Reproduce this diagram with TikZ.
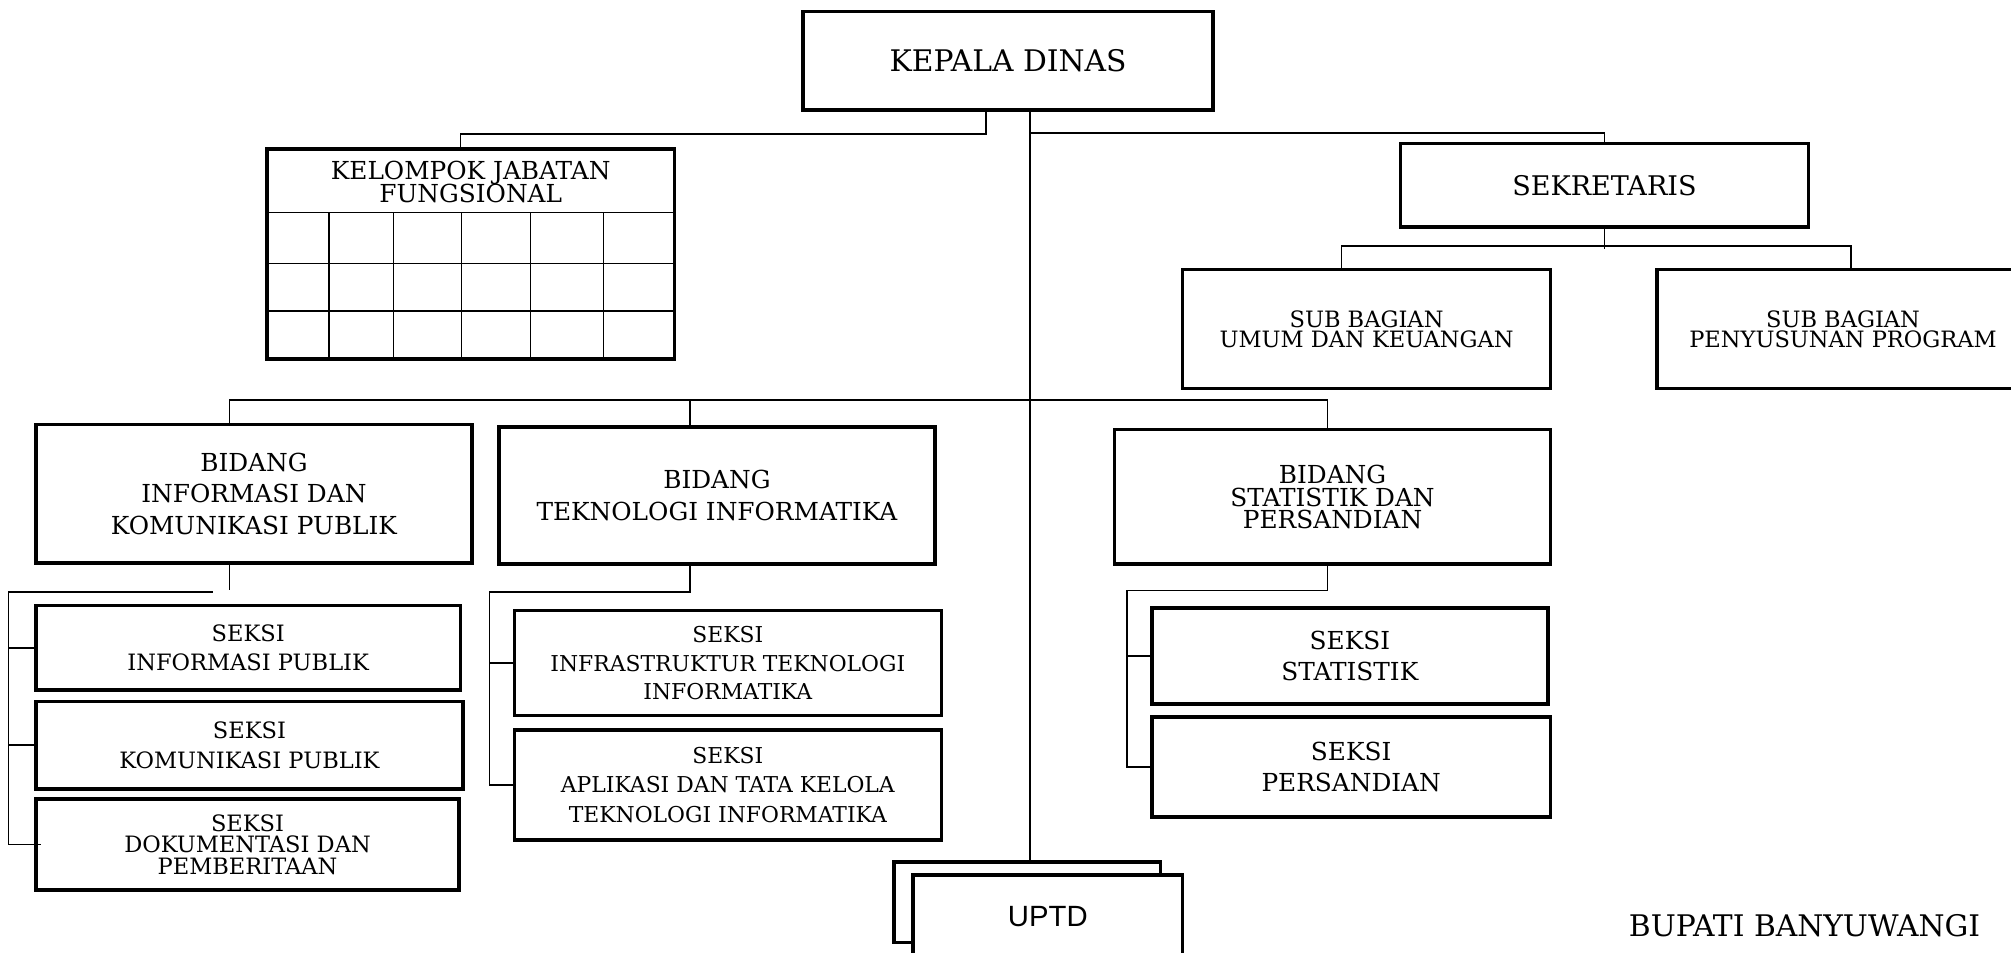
\documentclass[tikz,border=0pt]{standalone}
\usepackage{fontspec}
\setmainfont{DejaVu Serif}
\setsansfont{Liberation Sans}
\usepackage{tikz}
\tikzstyle{unit} = [rectangle, draw=black, line width=1.6pt, align=center, inner sep=0pt, fill=white]
\tikzstyle{link} = [line width=0.8pt]
\tikzstyle{cell} = [line width=0.6pt]

\begin{document}
\begin{tikzpicture}[x=0.02cm, y=-0.02cm]
        \useasboundingbox (0,0) rectangle (1568,743);

        % Nodes
        \node (kadis) [unit, minimum width=6.4cm, minimum height=1.54cm, font=\fontsize{13.2}{15}\selectfont] at (786,47.5) {KEPALA DINAS};
        \node (kjf) [unit, minimum width=6.36cm, minimum height=3.28cm] at (367,198) {};
        \node (kjftext) [align=center, inner sep=0pt, font=\fontsize{11}{10.5}\selectfont] at (367,142) {KELOMPOK JABATAN\\FUNGSIONAL};
        \node (sekre) [unit, minimum width=6.36cm, minimum height=1.3cm, font=\fontsize{12}{14}\selectfont] at (1251,144.5) {SEKRETARIS};
        \node (subum) [unit, minimum width=5.74cm, minimum height=1.86cm, font=\fontsize{10}{9}\selectfont] at (1065.5,256.5) {SUB BAGIAN\\UMUM DAN KEUANGAN};
        \node (subprog) [unit, minimum width=5.8cm, minimum height=1.86cm, font=\fontsize{10}{9}\selectfont] at (1437,256.5) {SUB BAGIAN\\PENYUSUNAN PROGRAM};
        \node (bid1) [unit, minimum width=6.8cm, minimum height=2.16cm, font=\fontsize{11}{14}\selectfont] at (198,385) {BIDANG\\INFORMASI DAN\\KOMUNIKASI PUBLIK};
        \node (bid2) [unit, minimum width=6.8cm, minimum height=2.14cm, font=\fontsize{11}{14}\selectfont] at (559,386.5) {BIDANG\\TEKNOLOGI INFORMATIKA};
        \node (bid3) [unit, minimum width=6.8cm, minimum height=2.1cm, font=\fontsize{11}{10.2}\selectfont] at (1039,387.5) {BIDANG\\STATISTIK DAN\\PERSANDIAN};
        \node (s11) [unit, minimum width=6.62cm, minimum height=1.32cm, font=\fontsize{10}{13}\selectfont] at (193.5,505) {SEKSI\\INFORMASI PUBLIK};
        \node (s12) [unit, minimum width=6.66cm, minimum height=1.36cm, font=\fontsize{10}{13}\selectfont] at (194.5,581) {SEKSI\\KOMUNIKASI PUBLIK};
        \node (s13) [unit, minimum width=6.6cm, minimum height=1.42cm, font=\fontsize{10}{9.6}\selectfont] at (193,658.5) {SEKSI\\DOKUMENTASI DAN\\PEMBERITAAN};
        \node (s21) [unit, minimum width=6.66cm, minimum height=1.64cm, font=\fontsize{9.7}{12.5}\selectfont] at (567.5,517) {SEKSI\\INFRASTRUKTUR TEKNOLOGI\\INFORMATIKA};
        \node (s22) [unit, minimum width=6.66cm, minimum height=1.72cm, font=\fontsize{9.7}{13}\selectfont] at (567.5,612) {SEKSI\\APLIKASI DAN TATA KELOLA\\TEKNOLOGI INFORMATIKA};
        \node (s31) [unit, minimum width=6.18cm, minimum height=1.5cm, font=\fontsize{11}{14}\selectfont] at (1052.5,511.5) {SEKSI\\STATISTIK};
        \node (s32) [unit, minimum width=6.22cm, minimum height=1.56cm, font=\fontsize{11}{14}\selectfont] at (1053.5,598) {SEKSI\\PERSANDIAN};
        \node (uptdb) [unit, minimum width=4.16cm, minimum height=1.26cm] at (801,703.5) {};
        \node (uptd) [unit, minimum width=4.2cm, minimum height=1.32cm, font=\sffamily\fontsize{13}{15}\selectfont] at (817,715) {UPTD};
        \node (bupati) [font=\fontsize{13.2}{15}\selectfont] at (1407,722) {BUPATI BANYUWANGI};

        % Grid of the functional group
        \foreach \dy in {51,91,128}
            \draw [cell] (kjf.north west) ++(0,\dy) -- ++(318,0);
        \foreach \dx in {50,100,153,207,264}
            \draw [cell] (kjf.north west) ++(\dx,51) -- ++(0,113);

        % Lines
        \coordinate (spine) at ([xshift=0.34cm]kadis.south);
        \draw [link] (spine) -- (spine |- uptdb.north);
        \draw [link] (kadis.south) ++(-17,0) -- ++(0,17) -| ([xshift=-0.16cm]kjf.north);
        \draw [link] (spine) ++(0,16) -| (sekre.north);
        \draw [link] (sekre.south) -- ++(0,16);
        \draw [link] ([xshift=-0.39cm]subum.north) -- ++(0,-17) -| ([xshift=0.12cm]subprog.north);
        \draw [link] ([xshift=-0.38cm]bid1.north) -- ++(0,-18) -| ([xshift=-0.08cm]bid3.north);
        \draw [link] ([xshift=-0.42cm]bid2.north) -- ++(0,-20);

        \draw [link] ([xshift=-0.38cm]bid1.south) -- ++(0,20);
        \draw [link] ([xshift=-0.64cm,yshift=-0.42cm]bid1.south) -| ([xshift=-0.4cm]s13.west) -- ([xshift=0.1cm]s13.west);
        \draw [link] (s11.west) -- ++(-20,0);
        \draw [link] (s12.west) -- ++(-20,0);

        \draw [link] ([xshift=-0.42cm]bid2.south) -- ++(0,20) -| ([xshift=-0.36cm]s22.west) -- (s22.west);
        \draw [link] (s21.west) -- ++(-18,0);

        \draw [link] ([xshift=-0.08cm]bid3.south) -- ++(0,19) -| ([xshift=-0.36cm]s32.west) -- (s32.west);
        \draw [link] (s31.west) -- ++(-18,0);
    \end{tikzpicture}
\end{document}
